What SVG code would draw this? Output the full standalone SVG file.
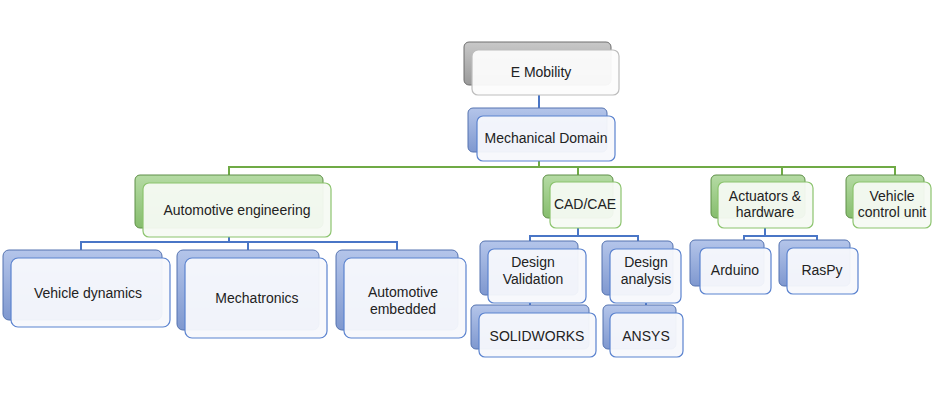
<svg xmlns="http://www.w3.org/2000/svg" width="950" height="400" viewBox="0 0 950 400">
<defs>
<linearGradient id="gg" x1="0" y1="0" x2="0" y2="1"><stop offset="0" stop-color="#c8c8c8"/><stop offset="1" stop-color="#9a9a9a"/></linearGradient>
<linearGradient id="gb" x1="0" y1="0" x2="0" y2="1"><stop offset="0" stop-color="#b4c5ea"/><stop offset="1" stop-color="#7f98cf"/></linearGradient>
<linearGradient id="gr" x1="0" y1="0" x2="0" y2="1"><stop offset="0" stop-color="#b5dba4"/><stop offset="1" stop-color="#86bd6d"/></linearGradient>
</defs>
<style>
.bg{fill:url(#gg);stroke:#6f6f6f;stroke-width:1}
.bb{fill:url(#gb);stroke:#5573b0;stroke-width:1}
.br{fill:url(#gr);stroke:#5f8f48;stroke-width:1}
.f{fill:#f7f8fc;fill-opacity:0.95;stroke-width:1.2}
.fg{stroke:#bdbdbd;fill:#fcfcfc}
.fb{stroke:#5b83cf}
.fr{stroke:#8cc46e;fill:#f6faf3}
text{font-family:"Liberation Sans",Arial,sans-serif;font-size:14px;fill:#222;text-anchor:middle}
.cb{stroke:#4a76c6;stroke-width:2;fill:none}
.cg{stroke:#6faa45;stroke-width:2;fill:none}
</style>
<g id="connectors">
<path class="cb" d="M539 95V108"/>
<path class="cg" d="M539 161V167M229 175V167H895V175M578 167V175M782 167V175"/>
<path class="cb" d="M229 237V242M81 250V242H397V250M248 242V250"/>
<path class="cb" d="M578 228V236M530 241V236H638V241"/>
<path class="cb" d="M765 228V236M744 240V236H817V240"/>
<path class="cb" d="M530 303V305M646 303V305"/>
</g>
<g id="n-emobility"><rect class="bg" x="464" y="42" width="147" height="43" rx="5"/><rect class="f fg" x="472" y="50" width="147" height="45" rx="6"/><text x="541" y="77">E Mobility</text></g>
<g id="n-mech"><rect class="bb" x="468" y="108" width="139" height="44" rx="5"/><rect class="f fb" x="477" y="116" width="138" height="45" rx="6"/><text x="546" y="143">Mechanical Domain</text></g>
<g id="n-auto"><rect class="br" x="135" y="175" width="188" height="53" rx="5"/><rect class="f fr" x="143" y="183" width="188" height="54" rx="6"/><text x="237" y="215">Automotive engineering</text></g>
<g id="n-cad"><rect class="br" x="543" y="175" width="70" height="43" rx="5"/><rect class="f fr" x="550" y="182" width="71" height="46" rx="6"/><text x="585" y="209">CAD/CAE</text></g>
<g id="n-act"><rect class="br" x="711" y="175" width="94" height="43" rx="5"/><rect class="f fr" x="718" y="182" width="95" height="46" rx="6"/><text x="765" y="201">Actuators &amp;</text><text x="765" y="217">hardware</text></g>
<g id="n-vcu"><rect class="br" x="846" y="175" width="78" height="43" rx="5"/><rect class="f fr" x="853" y="182" width="78" height="46" rx="6"/><text x="892" y="201">Vehicle</text><text x="892" y="217">control unit</text></g>
<g id="n-vd"><rect class="bb" x="3" y="250" width="159" height="70" rx="6"/><rect class="f fb" x="11" y="258" width="159" height="69" rx="7"/><text x="88" y="298">Vehicle dynamics</text></g>
<g id="n-mt"><rect class="bb" x="177" y="250" width="142" height="80" rx="6"/><rect class="f fb" x="185" y="258" width="142" height="80" rx="7"/><text x="257" y="303">Mechatronics</text></g>
<g id="n-ae"><rect class="bb" x="336" y="250" width="122" height="80" rx="6"/><rect class="f fb" x="344" y="258" width="122" height="80" rx="7"/><text x="403" y="297">Automotive</text><text x="403" y="314">embedded</text></g>
<g id="n-dv"><rect class="bb" x="480" y="241" width="98" height="54" rx="5"/><rect class="f fb" x="488" y="249" width="98" height="54" rx="6"/><text x="533" y="267">Design</text><text x="533" y="284">Validation</text></g>
<g id="n-da"><rect class="bb" x="602" y="241" width="71" height="54" rx="5"/><rect class="f fb" x="610" y="249" width="71" height="54" rx="6"/><text x="646" y="267">Design</text><text x="646" y="284">analysis</text></g>
<g id="n-sw"><rect class="bb" x="471" y="305" width="118" height="44" rx="5"/><rect class="f fb" x="479" y="313" width="117" height="44" rx="6"/><text x="537" y="341">SOLIDWORKS</text></g>
<g id="n-ansys"><rect class="bb" x="603" y="305" width="73" height="44" rx="5"/><rect class="f fb" x="610" y="313" width="73" height="44" rx="6"/><text x="646" y="341">ANSYS</text></g>
<g id="n-ard"><rect class="bb" x="690" y="240" width="74" height="46" rx="5"/><rect class="f fb" x="700" y="248" width="71" height="46" rx="6"/><text x="735" y="275">Arduino</text></g>
<g id="n-ras"><rect class="bb" x="779" y="240" width="71" height="46" rx="5"/><rect class="f fb" x="787" y="248" width="71" height="46" rx="6"/><text x="822" y="275">RasPy</text></g>
</svg>
